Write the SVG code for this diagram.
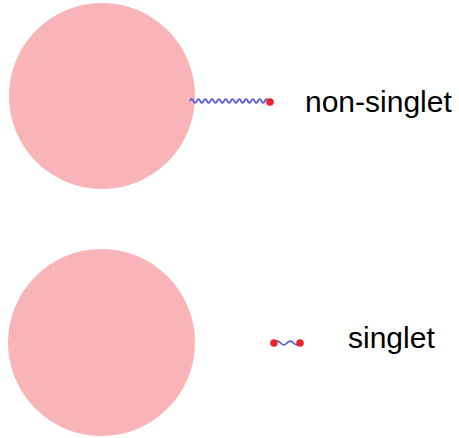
<svg xmlns="http://www.w3.org/2000/svg" width="459" height="438" viewBox="0 0 459 438">
<style>
.ball{fill:#f9b4b8}
.wave{fill:none;stroke:#5a5ad8;stroke-width:1.8}
.end{fill:#e8242c}
.lbl{font-family:"Liberation Sans",Arial,sans-serif;font-size:30px;fill:#000}
</style>
<rect width="459" height="438" fill="#fff"/>
<g id="node-top"><circle class="ball" cx="102" cy="96" r="93"/></g>
<g id="node-bottom"><circle class="ball" cx="101.5" cy="342.5" r="93.5"/></g>
<g id="connectors">
<path class="wave" d="M190,101 q1.7,-3.6 3.4,0 t3.4,0 t3.4,0 t3.4,0 t3.4,0 t3.4,0 t3.4,0 t3.4,0 t3.4,0 t3.4,0 t3.4,0 t3.4,0 t3.4,0 t3.4,0 t3.4,0 t3.4,0 t3.4,0 t3.4,0 t3.4,0 t3.4,0 t3.4,0 t3.4,0 t3.4,0 t1.8,0"/>
<circle class="end" cx="270" cy="102" r="3.8"/>
<path class="wave" d="M274,343 q3.2,-3.6 6.5,0 t6.5,0 t6.5,0 t6.5,0"/>
<circle class="end" cx="274" cy="343" r="3.8"/>
<circle class="end" cx="300" cy="343" r="3.8"/>
</g>
<text class="lbl" x="305" y="112">non-singlet</text>
<text class="lbl" x="348" y="348">singlet</text>
</svg>
